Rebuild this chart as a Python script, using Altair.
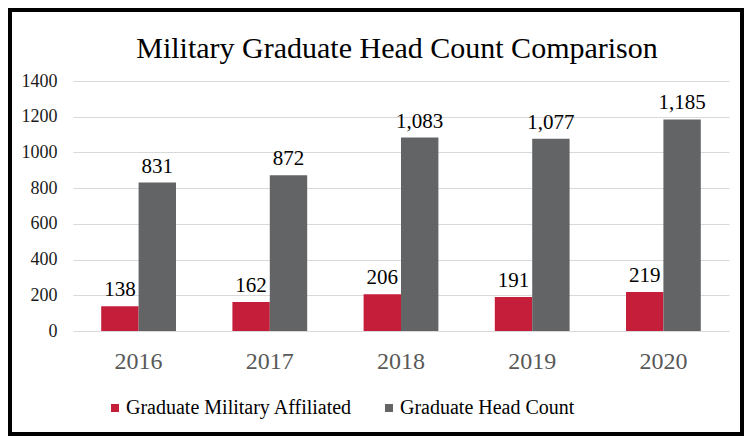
import altair as alt
import pandas as pd

years = ["2016", "2017", "2018", "2019", "2020"]
military = [138, 162, 206, 191, 219]
headcount = [831, 872, 1083, 1077, 1185]
series = ["Graduate Military Affiliated", "Graduate Head Count"]
colors = ["#C41E3A", "#636466"]
y_ticks = [0, 200, 400, 600, 800, 1000, 1200, 1400]
title_text = "Military Graduate Head Count Comparison"

FONT = "'Liberation Serif', serif"

rows = []
for i, yr in enumerate(years):
    rows.append({"year": yr, "series": series[0], "value": military[i], "label": f"{military[i]:,}"})
    rows.append({"year": yr, "series": series[1], "value": headcount[i], "label": f"{headcount[i]:,}"})
df = pd.DataFrame(rows)

x_enc = alt.X(
    "year:N",
    scale=alt.Scale(paddingInner=0.43, paddingOuter=0.215),
    axis=alt.Axis(
        title=None, labelAngle=0, labelFont=FONT, labelFontSize=24,
        labelColor="#595959", ticks=False, domainColor="#d9d9d9",
        labelPadding=18,
    ),
)
xo_enc = alt.XOffset("series:N", sort=series, scale=alt.Scale(domain=series, paddingInner=0, paddingOuter=0))
y_enc = alt.Y(
    "value:Q",
    scale=alt.Scale(domain=[0, 1400]),
    axis=alt.Axis(
        values=y_ticks, title=None, domain=False, ticks=False, grid=True,
        gridColor="#d9d9d9", labelFont=FONT, labelFontSize=18,
        labelColor="#1a1a1a", labelPadding=16, format="d",
    ),
)

base = alt.Chart(df)

bars = base.mark_bar().encode(
    x=x_enc,
    xOffset=xo_enc,
    y=y_enc,
    color=alt.Color(
        "series:N",
        sort=series,
        scale=alt.Scale(domain=series, range=colors),
        legend=alt.Legend(
            orient="none", legendX=32, legendY=317, direction="horizontal",
            title=None, symbolType="square", symbolSize=64, symbolStrokeWidth=0,
            labelFont=FONT, labelFontSize=20, labelColor="#000000",
            columnPadding=26, labelOffset=1, labelLimit=0, padding=0,
        ),
    ),
)

text = base.mark_text(baseline="alphabetic", dy=-10, font=FONT, fontSize=21, color="#000000").encode(
    x=x_enc,
    xOffset=xo_enc,
    y=y_enc,
    text="label:N",
)

border = alt.Chart(pd.DataFrame({"k": [0]})).mark_rect(
    filled=False, stroke="#000000", strokeWidth=4
).encode(
    x=alt.value(-63), x2=alt.value(669), y=alt.value(-71), y2=alt.value(353)
)

chart = alt.layer(bars, text, border).properties(
    width=656,
    height=250,
    padding={"left": 65, "top": 73, "right": 15, "bottom": 105},
    autosize="none",
    title=alt.TitleParams(
        title_text, font=FONT, fontSize=30,
        fontWeight="normal", color="#000000", anchor="middle", dx=-4,
        offset=0, baseline="alphabetic", dy=80,
    ),
).configure_view(strokeWidth=0).configure_axis(labelFont=FONT).configure_text(font=FONT)

chart.save("out.html", embed_options={"renderer": "svg", "actions": False})
